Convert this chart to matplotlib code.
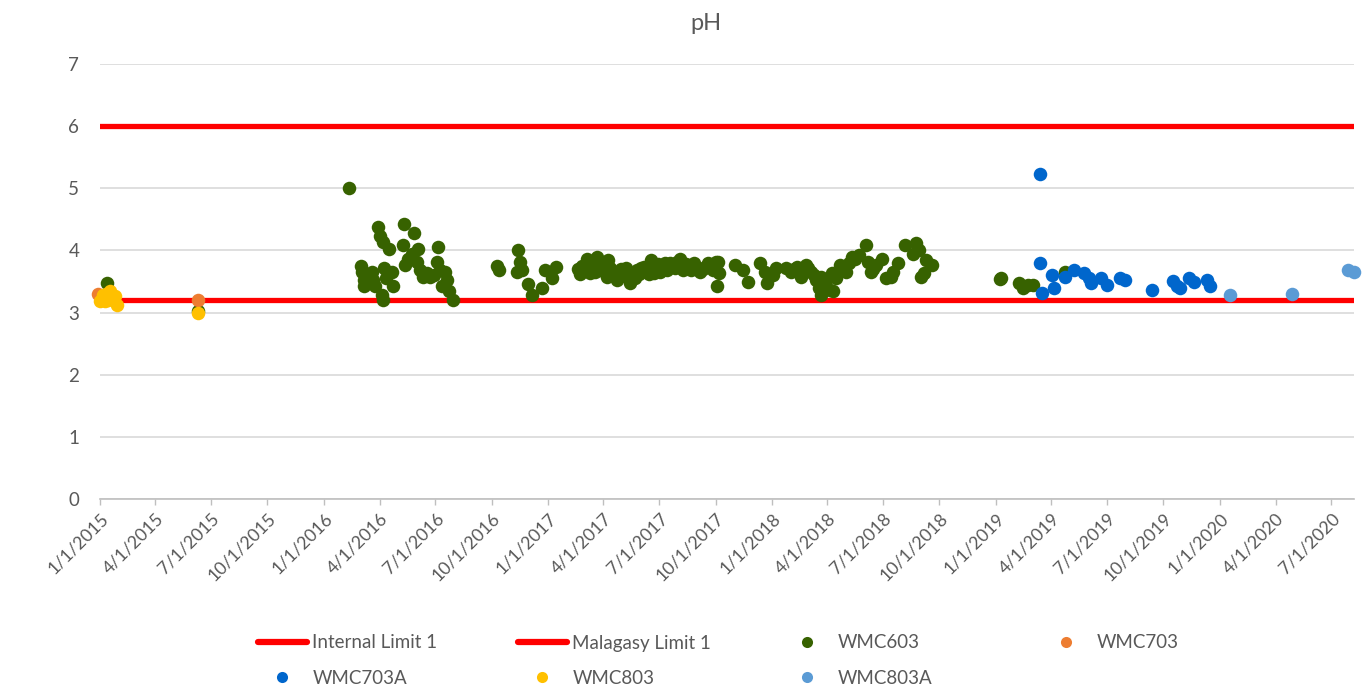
import numpy as np
import pandas as pd
import matplotlib
matplotlib.use('Agg')
import matplotlib.pyplot as plt
import matplotlib.dates as mdates
from matplotlib.lines import Line2D
from matplotlib.ticker import FuncFormatter

plt.rcParams['font.family'] = ['Lato', 'DejaVu Sans']

# Limites
limit_dates = ['2015-01-01', '2020-08-07']
internal_limit = [6.0, 6.0]
malagasy_limit = [3.2, 3.2]

# Series pH
wmc603_dates = [
    '2015-01-12', '2015-06-10', '2016-02-11',
    '2016-03-01', '2016-03-04', '2016-03-06', '2016-03-07', '2016-03-19', '2016-03-22',
    '2016-03-25', '2016-03-30', '2016-04-02', '2016-04-05', '2016-04-06', '2016-04-07',
    '2016-04-08', '2016-04-12', '2016-04-16', '2016-04-21', '2016-04-23', '2016-05-09',
    '2016-05-10', '2016-05-13', '2016-05-18', '2016-05-24', '2016-05-27', '2016-06-01',
    '2016-06-02', '2016-06-06', '2016-06-11', '2016-06-17', '2016-06-22', '2016-06-28',
    '2016-07-03', '2016-07-06', '2016-07-09', '2016-07-11', '2016-07-17', '2016-07-20',
    '2016-07-23', '2016-07-29',
    '2016-10-10', '2016-10-13', '2016-11-11', '2016-11-12', '2016-11-16', '2016-11-19',
    '2016-11-29', '2016-12-05', '2016-12-22', '2016-12-26', '2017-01-07', '2017-01-14',
    '2017-02-19', '2017-02-25', '2017-03-05', '2017-03-10', '2017-03-15', '2017-03-21',
    '2017-03-27', '2017-04-01', '2017-04-07', '2017-04-12', '2017-04-17', '2017-04-23',
    '2017-04-29', '2017-05-04', '2017-05-10', '2017-05-15', '2017-05-20', '2017-05-26',
    '2017-06-01', '2017-06-06', '2017-06-12', '2017-06-17', '2017-06-23', '2017-06-29',
    '2017-07-05', '2017-07-10', '2017-07-18', '2017-07-26', '2017-08-04', '2017-08-09',
    '2017-08-17', '2017-08-26', '2017-09-01', '2017-09-06', '2017-09-14', '2017-09-22',
    '2017-10-02', '2017-10-04', '2017-10-05', '2017-10-06', '2017-11-01', '2017-11-15',
    '2017-11-23', '2017-12-12', '2017-12-21', '2017-12-23', '2018-01-02', '2018-01-07',
    '2018-01-23', '2018-02-01', '2018-02-11', '2018-02-17', '2018-02-25', '2018-03-05',
    '2018-03-14', '2018-03-19', '2018-03-21', '2018-03-22', '2018-03-29', '2018-04-06',
    '2018-04-09', '2018-04-11', '2018-04-22', '2018-05-01', '2018-05-12', '2018-05-23',
    '2018-06-03', '2018-06-11', '2018-06-19', '2018-06-30', '2018-07-06', '2018-07-14',
    '2018-07-25', '2018-08-05', '2018-08-19', '2018-08-24', '2018-09-01', '2018-09-09',
    '2018-09-18',
    '2017-02-22', '2017-03-02', '2017-03-18', '2017-03-24', '2017-04-04', '2017-04-09',
    '2017-04-20', '2017-04-26', '2017-05-07', '2017-05-13', '2017-05-23', '2017-05-29',
    '2017-06-09', '2017-06-15', '2017-06-20', '2017-06-26', '2017-07-02', '2017-07-14',
    '2017-07-22', '2017-07-30', '2017-08-13', '2017-08-22', '2017-09-10', '2017-09-18',
    '2017-09-26', '2018-02-05', '2018-02-21', '2018-03-01', '2018-03-10', '2018-04-15',
    '2018-04-27', '2018-05-06', '2018-05-17', '2018-06-07', '2018-06-15', '2018-07-18',
    '2018-08-28', '2018-09-05',
    '2019-01-07', '2019-01-10', '2019-02-07', '2019-02-15', '2019-02-22', '2019-03-03',
    '2019-04-24',
]
wmc603_ph = [
    3.48, 3.03, 5.00,
    3.75, 3.66, 3.52, 3.43, 3.66, 3.52,
    3.42, 4.37, 4.23, 3.28, 3.20, 4.14,
    3.71, 3.56, 4.02, 3.66, 3.42, 4.09,
    4.43, 3.77, 3.87, 3.95, 4.28, 3.82,
    4.03, 3.69, 3.58, 3.63, 3.58, 3.60,
    3.82, 4.06, 3.69, 3.42, 3.66, 3.52,
    3.34, 3.20,
    3.75, 3.69, 3.66, 4.00, 3.82, 3.68,
    3.46, 3.28, 3.39, 3.69, 3.55, 3.74,
    3.70, 3.75, 3.87, 3.63, 3.80, 3.90,
    3.69, 3.78, 3.58, 3.72, 3.65, 3.52,
    3.70, 3.66, 3.60, 3.47, 3.62, 3.69,
    3.72, 3.74, 3.66, 3.85, 3.63, 3.78,
    3.74, 3.80, 3.79, 3.72, 3.87, 3.69,
    3.75, 3.79, 3.70, 3.66, 3.74, 3.74,
    3.82, 3.42, 3.82, 3.63, 3.77, 3.69,
    3.50, 3.79, 3.66, 3.47, 3.60, 3.71,
    3.72, 3.65, 3.74, 3.58, 3.77, 3.66,
    3.52, 3.39, 3.58, 3.28, 3.50, 3.36,
    3.63, 3.34, 3.77, 3.66, 3.90, 3.93,
    4.09, 3.66, 3.77, 3.87, 3.55, 3.58,
    3.79, 4.09, 3.95, 4.12, 3.58, 3.85,
    3.77,
    3.62, 3.72, 3.66, 3.82, 3.66, 3.85,
    3.62, 3.58, 3.72, 3.55, 3.56, 3.62,
    3.70, 3.62, 3.76, 3.70, 3.66, 3.68,
    3.76, 3.82, 3.78, 3.68, 3.70, 3.80,
    3.68, 3.70, 3.68, 3.72, 3.60, 3.55,
    3.72, 3.80, 3.86, 3.82, 3.70, 3.66,
    4.00, 3.64,
    3.54, 3.55, 3.47, 3.39, 3.44, 3.44,
    3.66,
]

wmc703_dates = ['2014-12-29', '2015-06-10']
wmc703_ph = [3.30, 3.21]

wmc703a_dates = [
    '2019-03-14', '2019-03-14', '2019-03-17', '2019-04-02', '2019-04-05', '2019-04-24',
    '2019-05-08', '2019-05-24', '2019-06-02', '2019-06-05', '2019-06-21', '2019-07-01',
    '2019-07-23', '2019-07-31', '2019-09-12', '2019-10-17', '2019-10-24', '2019-10-29',
    '2019-11-12', '2019-11-20', '2019-12-11', '2019-12-16',
]
wmc703a_ph = [
    5.23, 3.80, 3.31, 3.61, 3.39, 3.58,
    3.69, 3.63, 3.55, 3.47, 3.55, 3.44,
    3.55, 3.52, 3.37, 3.51, 3.42, 3.39,
    3.55, 3.50, 3.53, 3.42,
]

wmc803_dates = ['2015-01-01', '2015-01-06', '2015-01-09', '2015-01-11', '2015-01-14',
                '2015-01-17', '2015-01-20', '2015-01-25', '2015-01-28', '2015-06-10']
wmc803_ph = [3.18, 3.28, 3.18, 3.30, 3.20, 3.34, 3.22, 3.26, 3.12, 3.00]

wmc803a_dates = ['2020-01-17', '2020-04-28', '2020-07-29', '2020-08-07']
wmc803a_ph = [3.28, 3.30, 3.68, 3.65]

grey = '#595959'
red = '#FF0000'

fig = plt.figure(figsize=(13.68, 6.93), dpi=100)
ax = fig.add_axes([100 / 1368, 1 - 499 / 693, (1354 - 100) / 1368, (499 - 64) / 693])

ax.plot(pd.to_datetime(limit_dates), internal_limit, color=red, lw=3.8, zorder=2)
ax.plot(pd.to_datetime(limit_dates), malagasy_limit, color=red, lw=3.8, zorder=2)

series = [
    (wmc603_dates, wmc603_ph, '#376200', 'WMC603'),
    (wmc703_dates, wmc703_ph, '#ED7D31', 'WMC703'),
    (wmc703a_dates, wmc703a_ph, '#0066CC', 'WMC703A'),
    (wmc803_dates, wmc803_ph, '#FFC000', 'WMC803'),
    (wmc803a_dates, wmc803a_ph, '#5B9BD5', 'WMC803A'),
]
for i, (d, v, c, name) in enumerate(series):
    ax.scatter(pd.to_datetime(d), v, s=95, color=c, linewidths=0, zorder=3 + i, clip_on=False)

ax.set_xlim(pd.Timestamp(limit_dates[0]), pd.Timestamp(limit_dates[1]))
ax.set_ylim(0, 7)
ax.set_yticks(range(0, 8))
ax.grid(axis='y', color='#D9D9D9', lw=1.2, zorder=0)
ax.set_axisbelow(True)

for s in ['top', 'right', 'left']:
    ax.spines[s].set_visible(False)
ax.spines['bottom'].set_color('#BFBFBF')
ax.spines['bottom'].set_linewidth(1.2)

ax.xaxis.set_major_locator(mdates.MonthLocator(bymonth=[1, 4, 7, 10]))
ax.xaxis.set_major_formatter(FuncFormatter(
    lambda x, pos: '{d.month}/{d.day}/{d.year}'.format(d=mdates.num2date(x))))
ax.tick_params(axis='x', direction='out', length=4, color='#BFBFBF', width=1,
               labelcolor=grey, labelsize=12.8, pad=4)
ax.tick_params(axis='y', length=0, labelcolor=grey, labelsize=13.5, pad=15)
for lab in ax.get_xticklabels():
    lab.set_rotation(45)
    lab.set_ha('right')
    lab.set_rotation_mode('anchor')

fig.text(706 / 1368, 1 - 23 / 693, 'pH', ha='center', va='center', fontsize=17, color=grey)

# Leyenda
line_h = Line2D([], [], color=red, lw=4.5, solid_capstyle='round')
def dot(c):
    return Line2D([], [], ls='none', marker='o', markersize=8, color=c, markeredgewidth=0)

entries = [
    (line_h, 'Internal Limit 1', 258, 643),
    (line_h, 'Malagasy Limit 1', 518, 643),
    (dot('#376200'), 'WMC603', 783, 643),
    (dot('#ED7D31'), 'WMC703', 1042, 643),
    (dot('#0066CC'), 'WMC703A', 258, 678),
    (dot('#FFC000'), 'WMC803', 518, 678),
    (dot('#5B9BD5'), 'WMC803A', 783, 678),
]
for h, lab, x, y in entries:
    leg = fig.legend([h], [lab], loc='center left', bbox_to_anchor=(x / 1368, 1 - y / 693),
                     frameon=False, borderpad=0, borderaxespad=0, handlelength=2.6,
                     handletextpad=0.3, fontsize=13.5)
    for t in leg.get_texts():
        t.set_color(grey)

fig.savefig('out.png', dpi=100)
